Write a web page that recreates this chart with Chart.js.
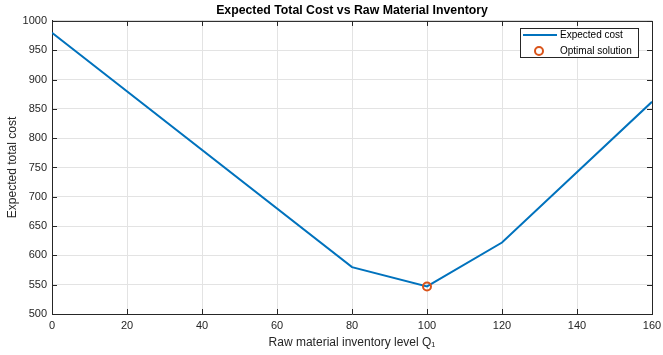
<!DOCTYPE html>
<html>
<head>
<meta charset="utf-8">
<script src="https://cdn.jsdelivr.net/npm/chart.js@4.4.1/dist/chart.umd.min.js"></script>
<style>
  html, body { margin: 0; padding: 0; background: #fff; }
  #wrap { width: 663px; height: 355px; }
</style>
</head>
<body>
<div id="wrap"><canvas id="myChart" width="663" height="355"></canvas></div>
<script>
// inventory levels (Q1) and expected total cost
let levels = [0, 80, 100, 120, 160];
let costs = [980, 580, 547, 622, 862];
let optimalLevel = [100];
let optimalCost = [547];
let xTicks = [0, 20, 40, 60, 80, 100, 120, 140, 160];
let yTicks = [500, 550, 600, 650, 700, 750, 800, 850, 900, 950, 1000];

let blue = '#0072BD';
let orange = '#D95319';
let axisColor = '#262626';
let fontName = '"Liberation Sans", Arial, sans-serif';

// box on top/right, inward tick marks, legend inside the axes
let matlabLook = {
    id: 'matlabLook',
    afterDraw(chart) {
        let ctx = chart.ctx;
        let a = chart.chartArea;
        let xs = chart.scales.x, ys = chart.scales.y;
        ctx.save();
        ctx.strokeStyle = axisColor;
        ctx.lineWidth = 1;
        ctx.beginPath();
        ctx.moveTo(a.left, a.top + 0.5);
        ctx.lineTo(a.right + 0.5, a.top + 0.5);
        ctx.lineTo(a.right + 0.5, a.bottom);
        xTicks.forEach(v => {
            let px = Math.round(xs.getPixelForValue(v)) + 0.5;
            ctx.moveTo(px, a.bottom); ctx.lineTo(px, a.bottom - 5);
            ctx.moveTo(px, a.top); ctx.lineTo(px, a.top + 5);
        });
        yTicks.forEach(v => {
            let py = Math.round(ys.getPixelForValue(v)) + 0.5;
            ctx.moveTo(a.left, py); ctx.lineTo(a.left + 5, py);
            ctx.moveTo(a.right, py); ctx.lineTo(a.right - 5, py);
        });
        ctx.stroke();

        // legend
        let bx = 520.5, by = 28.5, bw = 118, bh = 29;
        ctx.fillStyle = '#fff';
        ctx.fillRect(bx, by, bw, bh);
        ctx.strokeStyle = axisColor;
        ctx.strokeRect(bx, by, bw, bh);
        let ds = chart.data.datasets;
        ctx.strokeStyle = blue;
        ctx.lineWidth = 2;
        ctx.beginPath();
        ctx.moveTo(523, 35); ctx.lineTo(557, 35);
        ctx.stroke();
        ctx.strokeStyle = orange;
        ctx.beginPath();
        ctx.arc(539, 51, 4, 0, Math.PI * 2);
        ctx.stroke();
        ctx.fillStyle = '#000';
        ctx.font = '10px ' + fontName;
        ctx.textBaseline = 'middle';
        ctx.textAlign = 'left';
        ctx.fillText(ds[0].label, 560, 35);
        ctx.fillText(ds[1].label, 560, 51);
        ctx.restore();
    }
};

let ctx = document.getElementById('myChart').getContext('2d');

let chart = new Chart(ctx, {
    type: 'scatter',
    data: {
        datasets: [{
            label: 'Expected cost',
            data: levels.map((v, i) => ({ x: v, y: costs[i] })),
            showLine: true,
            borderColor: blue,
            backgroundColor: blue,
            borderWidth: 2,
            pointRadius: 0,
            order: 2
        }, {
            label: 'Optimal solution',
            data: optimalLevel.map((v, i) => ({ x: v, y: optimalCost[i] })),
            showLine: false,
            borderColor: orange,
            backgroundColor: 'transparent',
            borderWidth: 2,
            pointRadius: 4,
            order: 1
        }]
    },
    options: {
        responsive: false,
        animation: false,
        layout: { padding: { top: 0, right: 11, left: 0, bottom: 0 } },
        plugins: {
            legend: { display: false },
            tooltip: { enabled: false },
            title: {
                display: true,
                fullSize: false,
                text: 'Expected Total Cost vs Raw Material Inventory',
                color: '#000',
                font: { family: fontName, size: 12.3, weight: 'bold' },
                padding: { top: 3, bottom: 3.2 }
            }
        },
        scales: {
            x: {
                type: 'linear',
                min: 0,
                max: 160,
                afterBuildTicks: s => { s.ticks = xTicks.map(v => ({ value: v })); },
                afterFit: s => { s.height = 41; s.paddingLeft = 0; s.paddingRight = 0; },
                grid: { color: '#e3e3e3', drawTicks: false },
                border: { display: true, color: axisColor },
                ticks: { color: axisColor, font: { family: fontName, size: 11 }, padding: 5, maxRotation: 0 },
                title: {
                    display: true,
                    text: 'Raw material inventory level Q\u2081',
                    color: axisColor,
                    font: { family: fontName, size: 12 },
                    padding: { top: 0, bottom: 5 }
                }
            },
            y: {
                type: 'linear',
                min: 500,
                max: 1000,
                afterBuildTicks: s => { s.ticks = yTicks.map(v => ({ value: v })); },
                afterFit: s => { s.width = 52; s.paddingTop = 0; s.paddingBottom = 0; },
                grid: { color: '#e3e3e3', drawTicks: false },
                border: { display: true, color: axisColor },
                ticks: {
                    color: axisColor,
                    font: { family: fontName, size: 11 },
                    padding: 5,
                    callback: v => String(v)
                },
                title: {
                    display: true,
                    text: 'Expected total cost',
                    color: axisColor,
                    font: { family: fontName, size: 12 },
                    padding: { top: 5, bottom: 0 }
                }
            }
        }
    },
    plugins: [matlabLook]
});
</script>
</body>
</html>
